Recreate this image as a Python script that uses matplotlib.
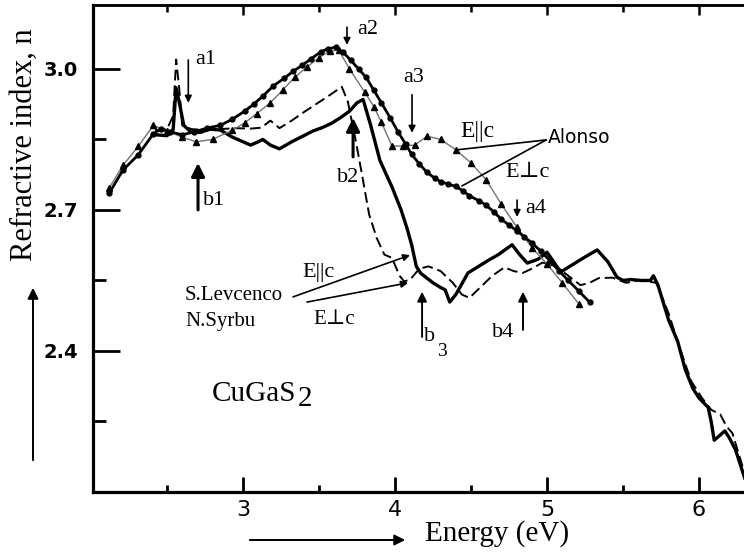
import matplotlib.pyplot as plt

plt.rcParams['font.family'] = ['Liberation Serif', 'DejaVu Serif']

# Alonso, E perp c (thick line, round markers)
e_alo_perp = [2.12, 2.21, 2.31, 2.41, 2.46, 2.52, 2.60, 2.68, 2.76, 2.85, 2.93, 3.01, 3.07,
              3.13, 3.20, 3.27, 3.33, 3.39, 3.45, 3.51, 3.56, 3.61, 3.66, 3.71, 3.76, 3.81,
              3.86, 3.91, 3.97, 4.02, 4.07, 4.11, 4.16, 4.21, 4.26, 4.30, 4.35, 4.40, 4.45,
              4.49, 4.55, 4.60, 4.65, 4.70, 4.75, 4.80, 4.85, 4.90, 4.96, 5.02, 5.08, 5.14,
              5.21, 5.28]
n_alo_perp = [2.736, 2.785, 2.817, 2.862, 2.872, 2.866, 2.860, 2.866, 2.874, 2.880, 2.893,
              2.910, 2.925, 2.942, 2.964, 2.980, 2.995, 3.008, 3.022, 3.036, 3.043, 3.046,
              3.035, 3.018, 3.000, 2.982, 2.955, 2.928, 2.895, 2.866, 2.840, 2.818, 2.798,
              2.780, 2.768, 2.760, 2.755, 2.750, 2.740, 2.730, 2.720, 2.710, 2.696, 2.680,
              2.668, 2.656, 2.643, 2.630, 2.612, 2.592, 2.570, 2.550, 2.527, 2.504]

# Alonso, E || c (thin grey line, triangles)
e_alo_par = [2.12, 2.21, 2.31, 2.41, 2.50, 2.60, 2.69, 2.80, 2.93, 3.01, 3.09, 3.18, 3.26,
             3.34, 3.42, 3.50, 3.57, 3.63, 3.70, 3.80, 3.86, 3.91, 3.98, 4.05, 4.13, 4.21,
             4.30, 4.40, 4.50, 4.60, 4.70, 4.80, 4.90, 5.00, 5.10, 5.21]
n_alo_par = [2.747, 2.795, 2.835, 2.880, 2.868, 2.855, 2.845, 2.850, 2.870, 2.885, 2.905,
             2.928, 2.955, 2.982, 3.004, 3.024, 3.038, 3.040, 3.000, 2.951, 2.920, 2.887,
             2.836, 2.836, 2.838, 2.857, 2.850, 2.828, 2.800, 2.764, 2.712, 2.664, 2.620,
             2.585, 2.545, 2.500]

# Levcenco & Syrbu, E perp c (dashed)
e_lev_perp = [2.42, 2.50, 2.54, 2.56, 2.58, 2.60, 2.66, 2.75, 2.85, 2.95, 3.05, 3.12, 3.18,
              3.24, 3.32, 3.40, 3.48, 3.56, 3.65, 3.69, 3.74, 3.78, 3.83, 3.88, 3.93, 3.98,
              4.03, 4.06, 4.10, 4.16, 4.22, 4.30, 4.38, 4.44, 4.49, 4.56, 4.64, 4.72, 4.78,
              4.84, 4.90, 4.97, 5.04, 5.12, 5.22, 5.28, 5.34, 5.43, 5.48, 5.52, 5.60, 5.66,
              5.72, 5.80, 5.88, 5.95, 6.02, 6.08, 6.14, 6.18, 6.22, 6.30]
n_lev_perp = [2.870, 2.872, 2.900, 3.020, 2.960, 2.880, 2.872, 2.870, 2.872, 2.874, 2.873,
              2.875, 2.890, 2.874, 2.890, 2.908, 2.925, 2.942, 2.962, 2.930, 2.850, 2.780,
              2.690, 2.640, 2.605, 2.598, 2.560, 2.548, 2.552, 2.575, 2.580, 2.570, 2.545,
              2.520, 2.513, 2.535, 2.560, 2.578, 2.570, 2.566, 2.575, 2.588, 2.582, 2.565,
              2.540, 2.545, 2.555, 2.556, 2.550, 2.545, 2.550, 2.548, 2.545, 2.480, 2.400,
              2.335, 2.300, 2.275, 2.265, 2.240, 2.225, 2.140]

# Levcenco & Syrbu, E || c (thick solid)
e_lev_par = [2.42, 2.50, 2.54, 2.56, 2.58, 2.61, 2.66, 2.72, 2.78, 2.85, 2.93, 3.00, 3.05,
             3.10, 3.13, 3.18, 3.24, 3.32, 3.40, 3.46, 3.52, 3.58, 3.64, 3.70, 3.75, 3.79,
             3.84, 3.90, 3.95, 3.98, 4.04, 4.08, 4.11, 4.14, 4.17, 4.21, 4.25, 4.30, 4.33,
             4.36, 4.40, 4.48, 4.55, 4.62, 4.68, 4.77, 4.82, 4.87, 4.94, 5.00, 5.09, 5.15,
             5.24, 5.33, 5.40, 5.46, 5.50, 5.55, 5.62, 5.68, 5.70, 5.73, 5.80, 5.86, 5.91,
             5.96, 6.00, 6.06, 6.08, 6.10, 6.17, 6.20, 6.24, 6.28, 6.30]
n_lev_par = [2.860, 2.858, 2.870, 2.960, 2.930, 2.880, 2.865, 2.865, 2.872, 2.870, 2.855,
             2.845, 2.838, 2.845, 2.850, 2.838, 2.830, 2.845, 2.858, 2.868, 2.875, 2.884,
             2.896, 2.910, 2.928, 2.935, 2.880, 2.806, 2.770, 2.749, 2.700, 2.660, 2.625,
             2.580, 2.565, 2.555, 2.545, 2.535, 2.530, 2.504, 2.520, 2.566, 2.580, 2.594,
             2.605, 2.626, 2.605, 2.587, 2.595, 2.610, 2.568, 2.580, 2.598, 2.615, 2.590,
             2.557, 2.550, 2.552, 2.550, 2.550, 2.560, 2.540, 2.466, 2.420, 2.360, 2.320,
             2.300, 2.280, 2.250, 2.210, 2.230, 2.215, 2.190, 2.150, 2.130]

x_major = [3, 4, 5, 6]
x_minor = [2.5, 3.5, 4.5, 5.5]
y_major = [2.4, 2.7, 3.0]
y_minor = [2.25, 2.55, 2.85]

fig = plt.figure(figsize=(7.44, 5.53), dpi=100)
ax = fig.add_axes([93 / 744, 61 / 553, 651 / 744, 487 / 553])

ax.plot(e_lev_perp, n_lev_perp, color='k', lw=1.4, ls=(0, (5.5, 2.5)))
ax.plot(e_lev_par, n_lev_par, color='k', lw=2.4)
ax.plot(e_alo_par, n_alo_par, color='0.45', lw=1.0, marker='^', ms=4.5, mfc='k', mec='k')
ax.plot(e_alo_perp, n_alo_perp, color='k', lw=2.0, marker='o', ms=3.5)

ax.set_xlim(2.013, 6.296)
ax.set_ylim(2.100, 3.136)

for s in ['left', 'bottom']:
    ax.spines[s].set_linewidth(2.3)
ax.spines['top'].set_linewidth(1.8)
ax.spines['right'].set_visible(False)

ax.set_xticks(x_major)
ax.set_xticks(x_minor, minor=True)
ax.set_yticks(y_major)
ax.set_yticks(y_minor, minor=True)
ax.set_xticklabels([str(v) for v in x_major])
ax.set_yticklabels([f'{v:.1f}' for v in y_major])
ax.tick_params(axis='x', which='major', direction='in', length=11, width=2, pad=6,
               labelsize=16, labelfontfamily='DejaVu Sans')
ax.tick_params(axis='x', which='minor', direction='in', length=5, width=2)
ax.tick_params(axis='y', which='major', direction='in', length=19.5, width=2, pad=11,
               labelsize=14, labelfontfamily='DejaVu Sans')
ax.tick_params(axis='y', which='minor', direction='in', length=9, width=2)
for t in ax.get_yticklabels():
    t.set_fontweight('bold')

top = ax.secondary_xaxis('top')
top.set_xticks(x_major)
top.set_xticks(x_minor, minor=True)
top.tick_params(which='major', direction='in', length=7.5, width=1.8, labeltop=False)
top.tick_params(which='minor', direction='in', length=5, width=1.8)
top.spines['top'].set_linewidth(1.8)

# axis titles with arrows
fig.text(24 / 744, 1 - 145 / 553, 'Refractive index, n', rotation=90, ha='center',
         va='center', fontsize=22)
ax.annotate('', xy=(33 / 744, 1 - 285 / 553), xytext=(33 / 744, 1 - 463 / 553),
            xycoords='figure fraction', textcoords='figure fraction',
            arrowprops=dict(arrowstyle='-|>', lw=1.4, color='k', mutation_scale=16))
fig.text(497 / 744, 1 - 534 / 553, 'Energy (eV)', ha='center', va='center', fontsize=21)
ax.annotate('', xy=(408 / 744, 1 - 540 / 553), xytext=(247 / 744, 1 - 540 / 553),
            xycoords='figure fraction', textcoords='figure fraction',
            arrowprops=dict(arrowstyle='-|>', lw=1.4, color='k', mutation_scale=16))

thin = dict(arrowstyle='-|>', lw=1.2, color='k', mutation_scale=10, shrinkA=0, shrinkB=0)
thick = dict(arrowstyle='-|>', lw=2.2, color='k', mutation_scale=20, shrinkA=0, shrinkB=0)
mid = dict(arrowstyle='-|>', lw=1.4, color='k', mutation_scale=14, shrinkA=0, shrinkB=0)
line = dict(arrowstyle='-', lw=1.2, color='k', shrinkA=0, shrinkB=0)

# peak markers
ax.annotate('', xy=(2.64, 2.928), xytext=(2.64, 3.019), arrowprops=thin)
ax.text(2.684, 3.019, 'a1', fontsize=16, va='center')
ax.annotate('', xy=(3.684, 3.051), xytext=(3.684, 3.089), arrowprops=thin)
ax.text(3.75, 3.083, 'a2', fontsize=16, va='center')
ax.annotate('', xy=(4.112, 2.864), xytext=(4.112, 2.945), arrowprops=thin)
ax.text(4.053, 2.981, 'a3', fontsize=16, va='center')
ax.annotate('', xy=(4.803, 2.685), xytext=(4.803, 2.721), arrowprops=thin)
ax.text(4.855, 2.704, 'a4', fontsize=16, va='center')

ax.annotate('', xy=(2.704, 2.800), xytext=(2.704, 2.700), arrowprops=thick)
ax.text(2.737, 2.721, 'b1', fontsize=16, va='center')
ax.annotate('', xy=(3.724, 2.896), xytext=(3.724, 2.813), arrowprops=thick)
ax.text(3.618, 2.770, 'b2', fontsize=16, va='center')
ax.annotate('', xy=(4.178, 2.526), xytext=(4.178, 2.430), arrowprops=mid)
ax.text(4.19, 2.430, 'b', fontsize=16, va='center')
ax.text(4.276, 2.398, '3', fontsize=14, va='center')
ax.annotate('', xy=(4.842, 2.526), xytext=(4.842, 2.445), arrowprops=mid)
ax.text(4.638, 2.440, 'b4', fontsize=16, va='center')

# Alonso labels
ax.text(5.007, 2.855, 'Alonso', fontsize=13.5, va='center', family='DejaVu Sans')
ax.annotate('', xy=(4.41, 2.828), xytext=(4.995, 2.849), arrowprops=line)
ax.annotate('', xy=(4.44, 2.751), xytext=(4.995, 2.849), arrowprops=line)
ax.text(4.428, 2.866, 'E||c', fontsize=17, va='center')
ax.text(4.724, 2.779, 'E\u22a5c', fontsize=16, va='center')

# Levcenco labels
ax.text(3.388, 2.566, 'E||c', fontsize=16, va='center')
ax.text(3.461, 2.466, 'E\u22a5c', fontsize=15, va='center')
ax.text(2.618, 2.519, 'S.Levcenco', fontsize=15, va='center')
ax.text(2.618, 2.462, 'N.Syrbu', fontsize=15, va='center')
ax.annotate('', xy=(4.099, 2.604), xytext=(3.329, 2.515), arrowprops=thin)
ax.annotate('', xy=(4.086, 2.545), xytext=(3.421, 2.504), arrowprops=thin)

ax.text(2.796, 2.294, 'CuGaS', fontsize=21, va='baseline')
ax.text(3.36, 2.283, '2', fontsize=21, va='baseline')

fig.savefig('out.png', dpi=100)
